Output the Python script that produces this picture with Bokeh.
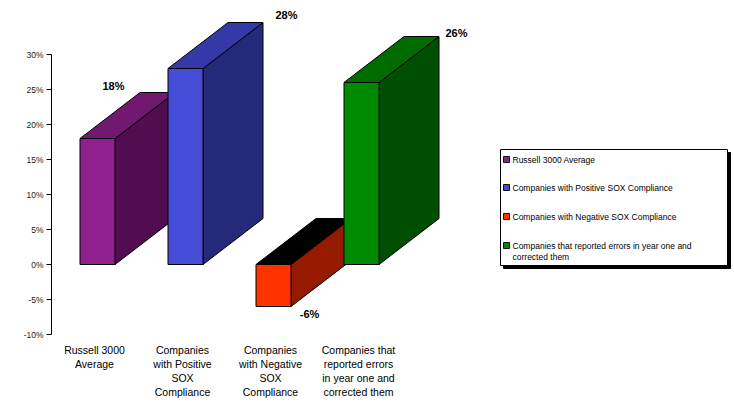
from bokeh.plotting import figure
from bokeh.models import ColumnDataSource, FixedTicker, PrintfTickFormatter, Range1d
from bokeh.core.properties import value
from bokeh.embed import file_html
from bokeh.resources import INLINE

# ---------------- data ----------------
categories = [
    "Russell 3000\nAverage",
    "Companies\nwith Positive\nSOX\nCompliance",
    "Companies\nwith Negative\nSOX\nCompliance",
    "Companies that\nreported errors\nin year one and\ncorrected them",
]
legend_labels = [
    "Russell 3000 Average",
    "Companies with Positive SOX Compliance",
    "Companies with Negative SOX Compliance",
    "Companies that reported errors in year one and\ncorrected them",
]
values = [18, 28, -6, 26]
value_labels = ["18%", "28%", "-6%", "26%"]
y_ticks = [-10, -5, 0, 5, 10, 15, 20, 25, 30]

# ---------------- style ----------------
front_colors = ["#901F90", "#454CD6", "#FF3300", "#008A00"]
top_colors = ["#711971", "#3439A8", "#000000", "#006C00"]
side_colors = ["#520C50", "#242979", "#951A00", "#004E00"]

W, H = 734, 402
FRAME_LEFT = 51
PX_PER_CAT = 88.0      # pixels between category centres
PX_PER_PCT = 7.0       # pixels per percentage point
FIRST_CAT_PX = 97.0    # pixel x of first category centre
ZERO_PX = 264.0        # pixel y of 0%

HALF_W = 17.5 / PX_PER_CAT
DEPTH_X = 60.0 / PX_PER_CAT
DEPTH_Y = 46.0 / PX_PER_PCT

def sx(px):
    return (px - FIRST_CAT_PX) / PX_PER_CAT

def sy(py):
    return (ZERO_PX - py) / PX_PER_PCT

p = figure(
    width=W, height=H, output_backend="svg", toolbar_location=None,
    x_range=Range1d(sx(FRAME_LEFT), sx(W)), y_range=Range1d(sy(H), sy(0)),
    min_border_left=FRAME_LEFT, min_border_right=0, min_border_top=0, min_border_bottom=0,
    x_axis_location=None,
)
p.outline_line_color = None
p.background_fill_color = "white"
p.border_fill_color = "white"
p.xgrid.visible = False
p.ygrid.visible = False

ya = p.yaxis[0]
ya.ticker = FixedTicker(ticks=y_ticks, minor_ticks=[])
ya.formatter = PrintfTickFormatter(format="%d%%")
ya.bounds = (min(y_ticks), max(y_ticks))
ya.axis_line_color = "black"
ya.major_tick_line_color = "black"
ya.major_tick_out = 5
ya.major_tick_in = 0
ya.minor_tick_out = 0
ya.major_label_standoff = 3
ya.major_label_text_font = "Liberation Sans"
ya.major_label_text_font_size = "8.5px"
ya.major_label_text_color = "#222222"

# ---------------- 3D bars ----------------
xs_c = list(range(len(values)))
fl, fr, fb, ft = [], [], [], []
side_xs, side_ys, top_xs, top_ys = [], [], [], []
for i, v in enumerate(values):
    l, r = xs_c[i] - HALF_W, xs_c[i] + HALF_W
    b, t = min(0, v), max(0, v)
    fl.append(l); fr.append(r); fb.append(b); ft.append(t)
    side_xs.append([r, r + DEPTH_X, r + DEPTH_X, r])
    side_ys.append([b, b + DEPTH_Y, t + DEPTH_Y, t])
    top_xs.append([l, l + DEPTH_X, r + DEPTH_X, r])
    top_ys.append([t, t + DEPTH_Y, t + DEPTH_Y, t])

p.patches(side_xs, side_ys, fill_color=side_colors, line_color="black", line_width=1)
p.patches(top_xs, top_ys, fill_color=top_colors, line_color="black", line_width=1)
p.quad(left=fl, right=fr, bottom=fb, top=ft, fill_color=front_colors,
       line_color="black", line_width=1)

# value labels
lab_src = ColumnDataSource(dict(
    x=xs_c, y=values, text=value_labels,
    xo=[16, 101, 36, 95], yo=[-53, -54, 7, -50],
))
p.text(x="x", y="y", text="text", x_offset="xo", y_offset="yo", source=lab_src,
       text_font=value("Liberation Sans"), text_font_style="bold",
       text_font_size="11px", text_color="black",
       text_align="center", text_baseline="middle")

# category labels
cat_src = ColumnDataSource(dict(x=xs_c, y=[min(y_ticks)] * len(xs_c), text=categories))
p.text(x="x", y="y", text="text", source=cat_src, x_offset=-3, y_offset=9,
       text_font=value("Liberation Sans"), text_font_size="10.5px",
       text_color="black", text_align="center", text_baseline="top",
       text_line_height=1.19)

# ---------------- legend ----------------
p.quad(left=[sx(503)], right=[sx(730)], top=[sy(152)], bottom=[sy(268)],
       fill_color="black", line_color="black")
p.quad(left=[sx(500)], right=[sx(727)], top=[sy(149)], bottom=[sy(265)],
       fill_color="white", line_color="black", line_width=1)
item_py = [159, 187, 216, 245]
p.quad(left=[sx(503)] * 4, right=[sx(509)] * 4,
       top=[sy(py - 3) for py in item_py], bottom=[sy(py + 3) for py in item_py],
       fill_color=front_colors, line_color="#111111", line_width=1)
p.text(x=[sx(512)] * 4, y=[sy(py - 5) for py in item_py], text=legend_labels,
       text_font=value("Liberation Sans"), text_font_size="8.5px",
       text_color="black", text_align="left", text_baseline="top",
       text_line_height=1.12)

open("out.html", "w").write(file_html(p, INLINE))
